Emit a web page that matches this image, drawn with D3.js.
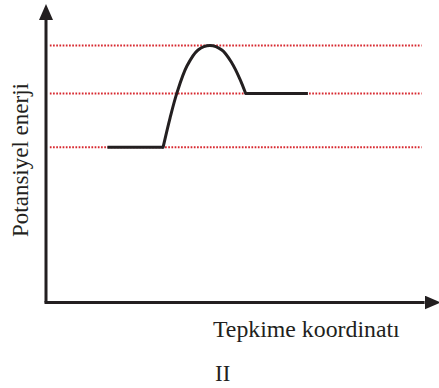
<!DOCTYPE html>
<html>
<head>
<meta charset="utf-8">
<script src="https://cdn.jsdelivr.net/npm/d3@7/dist/d3.min.js"></script>
<style>
  html, body { margin: 0; padding: 0; background: #fff; }
  svg { display: block; }
  text { font-family: "Liberation Serif", "Times New Roman", serif; fill: #231f20; }
</style>
</head>
<body>
<svg id="chart" width="439" height="388"></svg>
<script>
// Energy levels marked by dotted guide lines (reactant, product, transition state)
const levelNames = ["Girenler", "Ürünler", "Aktifleşmiş kompleks"];
const levelValues = [55, 74, 91];

// Reaction profile: reactant plateau, hump, product plateau
const reactantX = [16, 30.5];
const humpX = [30.5, 32.3, 34.1, 36.7, 39.6, 42.7, 45.8, 48.4, 50.5, 52.0];
const humpE = [55, 65.3, 74.2, 83.7, 89.4, 91, 89.4, 84.8, 79.1, 74];
const productX = [52.0, 68.2];

const xTitle = "Tepkime koordinatı";
const yTitle = "Potansiyel enerji";
const caption = "II";

const ink = "#231f20";
const red = "#d7282f";

const svg = d3.select("#chart");

const x = d3.scaleLinear().domain([0, 100]).range([46, 430]);
const y = d3.scaleLinear().domain([0, 100]).range([302.5, 20]);

// Arrowhead used at the end of both axes
const defs = svg.append("defs");
defs.append("marker")
  .attr("id", "arrow")
  .attr("viewBox", "0 0 16 14")
  .attr("refX", 0).attr("refY", 7)
  .attr("markerWidth", 16).attr("markerHeight", 14)
  .attr("markerUnits", "userSpaceOnUse")
  .attr("orient", "auto")
  .append("path")
  .attr("d", "M0,0 L16,7 L0,14 Z")
  .attr("fill", ink);

// Dotted guide lines
svg.append("g")
  .selectAll("line")
  .data(levelValues)
  .join("line")
  .attr("x1", x(1)).attr("x2", x(97.8))
  .attr("y1", d => y(d)).attr("y2", d => y(d))
  .attr("stroke", red)
  .attr("stroke-width", 2)
  .attr("stroke-dasharray", "1.7,1.5");

const xAxis = svg.append("g")
  .attr("transform", `translate(0,${y(0)})`)
  .call(d3.axisBottom(x).ticks(0).tickSizeOuter(0));
xAxis.select(".domain")
  .attr("stroke", ink).attr("stroke-width", 3)
  .attr("d", `M${x(0) - 1.5},0H${x(98.6)}`)
  .attr("marker-end", "url(#arrow)");

const yAxis = svg.append("g")
  .attr("transform", `translate(${x(0)},0)`)
  .call(d3.axisLeft(y).ticks(0).tickSizeOuter(0));
yAxis.select(".domain")
  .attr("stroke", ink).attr("stroke-width", 3)
  .attr("d", `M0,${y(0)}V${y(100)}`)
  .attr("marker-end", "url(#arrow)");

// Energy profile
const flat = d3.line().x(d => x(d[0])).y(d => y(d[1]));
const curve = d3.line().x(d => x(d[0])).y(d => y(d[1])).curve(d3.curveCatmullRom.alpha(0.5));

const profile = svg.append("g")
  .attr("fill", "none")
  .attr("stroke", ink)
  .attr("stroke-width", 3)
  .attr("stroke-linejoin", "round");

profile.append("path")
  .attr("d", flat(reactantX.map(v => [v, levelValues[0]])))
  .attr("stroke-linecap", "butt");
profile.append("path")
  .attr("d", curve(humpX.map((v, i) => [v, humpE[i]])))
  .attr("stroke-linecap", "round");
profile.append("path")
  .attr("d", flat(productX.map(v => [v, levelValues[1]])))
  .attr("stroke-linecap", "butt");

// Titles
svg.append("text")
  .attr("x", 213).attr("y", 336.5)
  .attr("font-size", 23.8)
  .text(xTitle);

svg.append("text")
  .attr("transform", "translate(28,160) rotate(-90)")
  .attr("text-anchor", "middle")
  .attr("font-size", 23)
  .text(yTitle);

svg.append("text")
  .attr("x", 215).attr("y", 381)
  .attr("font-size", 23)
  .text(caption);
</script>
</body>
</html>
